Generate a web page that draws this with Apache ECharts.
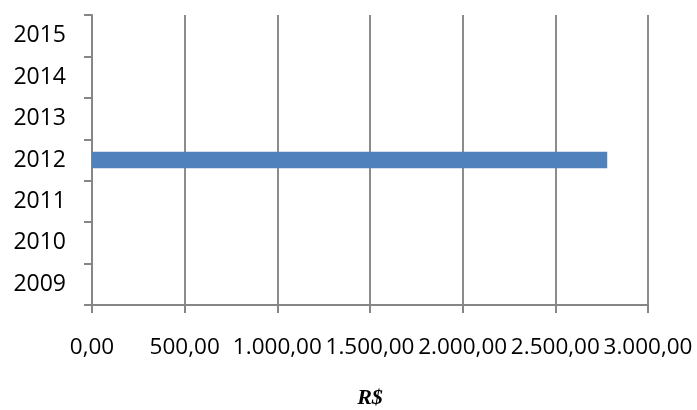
<!DOCTYPE html>
<html>
<head>
<meta charset="utf-8">
<script src="https://cdn.jsdelivr.net/npm/echarts@6/dist/echarts.min.js"></script>
<style>
html,body{margin:0;padding:0;background:#fff;}
#chart{width:697px;height:410px;}
</style>
</head>
<body>
<div id="chart"></div>
<script>
var years = ['2009', '2010', '2011', '2012', '2013', '2014', '2015'];
var values = [null, null, null, 2780, null, null, null];
var xTickValues = [0, 500, 1000, 1500, 2000, 2500, 3000];
var xTickLabels = ['0,00', '500,00', '1.000,00', '1.500,00', '2.000,00', '2.500,00', '3.000,00'];
var axisTitle = 'R$';

var chart = echarts.init(document.getElementById('chart'), null, {renderer: 'canvas'});
chart.setOption({
  animation: false,
  backgroundColor: '#ffffff',
  grid: {left: 92, right: 49, top: 15, bottom: 105, containLabel: false, outerBoundsMode: 'none'},
  xAxis: {
    type: 'value',
    min: 0, max: 3000, interval: 500,
    name: axisTitle,
    nameLocation: 'middle',
    nameGap: 82,
    nameTextStyle: {fontFamily: 'Liberation Serif', fontWeight: 'bold', fontStyle: 'italic', fontSize: 22, color: '#000'},
    axisLine: {show: true, lineStyle: {color: '#868686', width: 2}},
    axisTick: {show: true, length: 8, lineStyle: {color: '#868686', width: 2}},
    axisLabel: {
      margin: 31,
      hideOverlap: false,
      showMinLabel: true,
      showMaxLabel: true,
      fontFamily: 'Open Sans', fontSize: 22.5, color: '#000',
      formatter: function (v) { var i = xTickValues.indexOf(v); return i >= 0 ? xTickLabels[i] : ''; }
    },
    splitLine: {show: true, lineStyle: {color: '#8c8c8c', width: 2}}
  },
  yAxis: {
    type: 'category',
    data: years,
    axisLine: {show: true, lineStyle: {color: '#868686', width: 2}},
    axisTick: {show: true, length: 8, lineStyle: {color: '#868686', width: 2}},
    axisLabel: {margin: 26, fontFamily: 'Open Sans', fontSize: 23, color: '#000'},
    splitLine: {show: false}
  },
  series: [{
    type: 'bar',
    data: values,
    barWidth: '40%',
    itemStyle: {color: '#4F81BD'}
  }]
});
</script>
</body>
</html>
